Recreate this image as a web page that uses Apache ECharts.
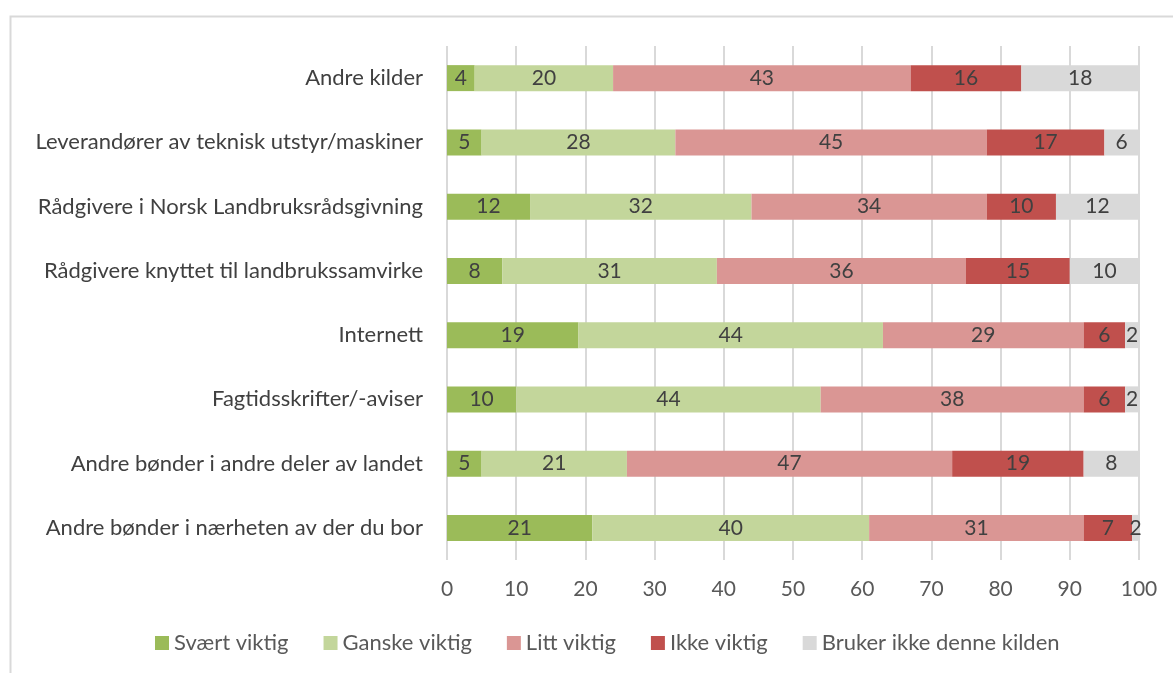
<!DOCTYPE html>
<html>
<head>
<meta charset="utf-8">
<script src="https://cdn.jsdelivr.net/npm/echarts@6/dist/echarts.min.js"></script>
<style>
  html, body { margin: 0; padding: 0; background: #ffffff; }
  #chart { width: 1173px; height: 673px; }
</style>
</head>
<body>
<div id="chart"></div>
<script>
// Kilder til informasjon, fordelt på vurdert viktighet (prosent)
const categories = [
  'Andre kilder',
  'Leverandører av teknisk utstyr/maskiner',
  'Rådgivere i Norsk Landbruksrådsgivning',
  'Rådgivere knyttet til landbrukssamvirke',
  'Internett',
  'Fagtidsskrifter/-aviser',
  'Andre bønder i andre deler av landet',
  'Andre bønder i nærheten av der du bor'
];
const seriesNames = ['Svært viktig', 'Ganske viktig', 'Litt viktig', 'Ikke viktig', 'Bruker ikke denne kilden'];
const svaertViktig  = [4, 5, 12, 8, 19, 10, 5, 21];
const ganskeViktig  = [20, 28, 32, 31, 44, 44, 21, 40];
const littViktig    = [43, 45, 34, 36, 29, 38, 47, 31];
const ikkeViktig    = [16, 17, 10, 15, 6, 6, 19, 7];
const brukerIkke    = [18, 6, 12, 10, 2, 2, 8, 2];
const xTicks = [0, 10, 20, 30, 40, 50, 60, 70, 80, 90, 100];

const colors = ['#9BBB59', '#C3D69B', '#DA9694', '#C0504D', '#D9D9D9'];
const values = [svaertViktig, ganskeViktig, littViktig, ikkeViktig, brukerIkke];
const FONT = 'Lato, "Open Sans", sans-serif';

const chart = echarts.init(document.getElementById('chart'), null, { renderer: 'canvas' });

chart.setOption({
  animation: false,
  color: colors,
  graphic: [{
    type: 'rect',
    shape: { x: 10.5, y: 16.5, width: 1300, height: 800 },
    style: { fill: 'none', stroke: '#D9D9D9', lineWidth: 2 },
    silent: true,
    z: -10
  }],
  grid: { left: 447, right: 34, top: 46, bottom: 113 },
  xAxis: {
    type: 'value',
    min: xTicks[0],
    max: xTicks[xTicks.length - 1],
    interval: 10,
    axisLine: { show: false },
    axisTick: { show: false },
    splitLine: { show: true, lineStyle: { color: '#D9D9D9', width: 2 } },
    axisLabel: { color: '#595959', fontSize: 21, fontFamily: FONT, margin: 19 }
  },
  yAxis: {
    type: 'category',
    data: categories,
    inverse: true,
    axisLine: { show: false },
    axisTick: { show: false },
    axisLabel: { color: '#404040', fontSize: 22, fontFamily: FONT, margin: 24 }
  },
  legend: {
    bottom: 14,
    left: 150,
    itemWidth: 14,
    itemHeight: 14,
    itemGap: 35,
    icon: 'rect',
    textStyle: { color: '#595959', fontSize: 22, fontFamily: FONT },
    data: seriesNames
  },
  series: seriesNames.map((name, i) => ({
    name: name,
    type: 'bar',
    stack: 'total',
    barWidth: 26,
    clip: true,
    data: values[i],
    itemStyle: { color: colors[i] },
    label: {
      show: true,
      position: 'inside',
      color: '#404040',
      fontSize: 21,
      fontFamily: FONT
    }
  }))
});
</script>
</body>
</html>
